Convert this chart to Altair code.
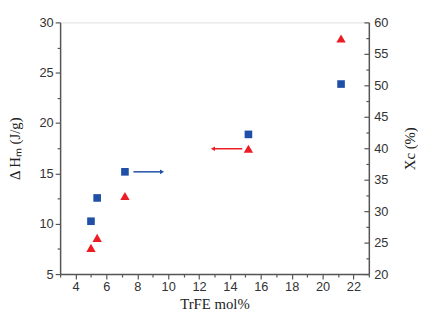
import altair as alt
import pandas as pd

# ---- data ----
trfe = [5.0, 5.4, 7.2, 15.2, 21.2]
delta_hm = [7.6, 8.6, 12.75, 17.45, 28.4]      # left axis (triangles)
xc = [28.4, 32.1, 36.25, 42.2, 50.2]           # right axis (squares)

blue_arrow_x = [7.75, 9.6]
blue_arrow_y = [36.25, 36.25]
red_arrow_x = [14.8, 12.9]
red_arrow_y = [17.45, 17.45]

x_ticks = list(range(3, 24))
left_ticks = [5 + 2.5 * i for i in range(11)]
right_ticks = [20 + 2.5 * i for i in range(17)]

RED = "#ec1c24"
BLUE = "#1f4fa6"
AX = "#555555"

pts = pd.DataFrame({"trfe": trfe, "dhm": delta_hm, "xc": xc})
barrow = pd.DataFrame({"x": [blue_arrow_x[0]], "x2": [blue_arrow_x[1]], "y": [blue_arrow_y[0]]})
bhead = pd.DataFrame({"x": [blue_arrow_x[1]], "y": [blue_arrow_y[1]]})
rarrow = pd.DataFrame({"x": [red_arrow_x[0]], "x2": [red_arrow_x[1]], "y": [red_arrow_y[0]]})
rhead = pd.DataFrame({"x": [red_arrow_x[1]], "y": [red_arrow_y[1]]})

xscale = alt.Scale(domain=[3, 23], nice=False, zero=False)
xaxis = alt.Axis(
    values=x_ticks,
    labelExpr="datum.value % 2 === 0 ? datum.label : ''",
    tickSize={"condition": {"test": "datum.value % 2 === 0", "value": 5}, "value": 3},
    title="TrFE mol%",
    titleFont="Liberation Serif", titleFontSize=15, titleFontWeight="normal",
    titleColor="#222", titlePadding=3,
    labelFont="Liberation Sans", labelFontSize=13, labelColor="#333",
    labelPadding=2, labelOverlap=False, grid=False,
    domainColor=AX, domainWidth=1.5, tickColor=AX, tickWidth=1.2,
)
lscale = alt.Scale(domain=[5, 30], nice=False, zero=False)
laxis = alt.Axis(
    orient="left", values=left_ticks,
    labelExpr="datum.value % 5 === 0 ? datum.label : ''",
    tickSize={"condition": {"test": "datum.value % 5 === 0", "value": 5}, "value": 3},
    title="Δ Hₘ (J/g)",
    titleFont="Liberation Serif", titleFontSize=15, titleFontWeight="normal",
    titleColor="#222", titlePadding=17,
    labelFont="Liberation Sans", labelFontSize=13, labelColor="#333",
    labelPadding=2, labelOverlap=False, grid=False,
    domainColor=AX, domainWidth=1.5, tickColor=AX, tickWidth=1.2,
)
rscale = alt.Scale(domain=[20, 60], nice=False, zero=False)
raxis = alt.Axis(
    orient="right", values=right_ticks,
    labelExpr="datum.value % 5 === 0 ? datum.label : ''",
    ticks=False,
    title="Xc (%)", titleAngle=270,
    titleFont="Liberation Serif", titleFontSize=15, titleFontWeight="normal",
    titleColor="#222", titlePadding=30,
    labelFont="Liberation Sans", labelFontSize=13, labelColor="#333",
    labelPadding=5, labelOverlap=False, grid=False,
    domainColor=AX, domainWidth=1.5,
)
rtickaxis = alt.Axis(
    orient="left", offset=-314, values=right_ticks,
    labels=False, domain=False, title=None, grid=False,
    tickSize={"condition": {"test": "datum.value % 5 === 0", "value": 5}, "value": 3},
    tickColor=AX, tickWidth=1.2,
)

X = alt.X("trfe:Q", scale=xscale, axis=xaxis)

left = alt.layer(
    alt.Chart(pts).mark_point(shape="triangle-up", filled=True, size=90, color=RED, opacity=1).encode(
        x=X, y=alt.Y("dhm:Q", scale=lscale, axis=laxis)),
    alt.Chart(rarrow).mark_rule(color=RED, strokeWidth=1.5).encode(
        x=alt.X("x:Q", scale=xscale, axis=xaxis), x2="x2:Q",
        y=alt.Y("y:Q", scale=lscale, axis=laxis)),
    alt.Chart(rhead).mark_point(shape="triangle-left", filled=True, size=22, color=RED, opacity=1).encode(
        x=alt.X("x:Q", scale=xscale, axis=xaxis),
        y=alt.Y("y:Q", scale=lscale, axis=laxis)),
)

right = alt.layer(
    alt.Chart(pts).mark_point(shape="square", filled=True, size=60, color=BLUE, opacity=1).encode(
        x=X, y=alt.Y("xc:Q", scale=rscale, axis=raxis)),
    alt.Chart(barrow).mark_rule(color=BLUE, strokeWidth=1.5).encode(
        x=alt.X("x:Q", scale=xscale, axis=xaxis), x2="x2:Q",
        y=alt.Y("y:Q", scale=rscale, axis=raxis)),
    alt.Chart(bhead).mark_point(shape="triangle-right", filled=True, size=22, color=BLUE, opacity=1).encode(
        x=alt.X("x:Q", scale=xscale, axis=xaxis),
        y=alt.Y("y:Q", scale=rscale, axis=raxis)),
)

rticks = alt.Chart(pts).mark_point(opacity=0).encode(
    x=X, y=alt.Y("xc:Q", scale=rscale, axis=rtickaxis))

chart = alt.layer(left, right, rticks).resolve_scale(y="independent").properties(
    width=314, height=256,
    autosize=alt.AutoSizeParams(type="none"),
    padding={"left": 53, "top": 12, "right": 50, "bottom": 40},
).configure_view(stroke=AX, strokeWidth=1.5).configure(background="white")

chart.save("out.html", embed_options={"renderer": "svg", "actions": False})
